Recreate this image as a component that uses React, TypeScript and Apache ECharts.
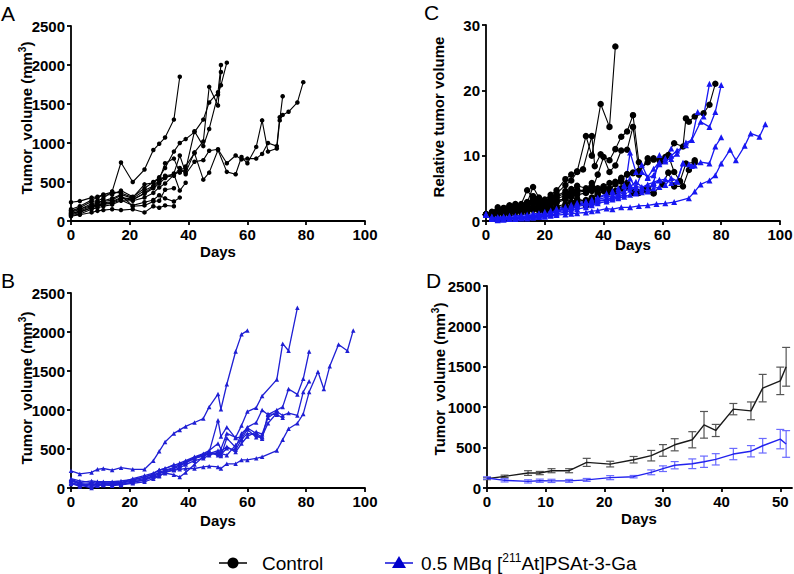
import React, { useEffect, useRef } from 'react';
import * as echarts from 'echarts';

const FONT = 'Liberation Sans, Arial, Helvetica, sans-serif';
const BLACK = '#000000';
const BLUE_B = '#1f1fd4';
const BLUE_C = '#1717f2';

type Pt = [number, number];

// ---- Panel A: individual control tumours (mm3) ----
const controlA1: Pt[] = [[0,130],[3,170],[7,250],[9,260],[11,290],[14,380],[17,750],[21,500],[25,660],[28,910],[30,990],[32,1070],[35,1300],[37,1850]];
const controlA2: Pt[] = [[0,150],[3,190],[7,270],[9,300],[11,330],[14,340],[17,390],[21,310],[25,420],[28,500],[30,560],[32,680],[35,890],[37,1000],[39,1050],[42,1140],[45,1300],[47,1520],[50,1650],[51,2000]];
const controlA3: Pt[] = [[0,110],[3,150],[7,220],[9,240],[11,260],[14,290],[17,340],[21,290],[25,390],[28,450],[30,520],[32,740],[35,800],[37,620],[39,660],[42,1150],[45,960],[47,1180],[50,1620],[51,1740],[53,2030]];
const controlA4: Pt[] = [[0,90],[3,130],[7,190],[9,210],[11,230],[14,250],[17,300],[21,280],[25,350],[28,420],[30,480],[32,550],[35,610],[37,840],[39,620],[42,880],[45,1020],[47,1720],[50,1480],[51,1910]];
const controlA5: Pt[] = [[0,240],[3,255],[7,300],[9,310],[11,340],[14,370],[17,360],[21,300],[25,470],[28,490],[30,540],[32,560],[35,580],[37,680],[39,600],[42,760],[45,780],[47,900],[50,920],[53,740],[56,840],[58,790],[60,800],[63,800],[65,860],[67,1000],[70,960],[71,1330],[72,1360],[74,1400],[77,1520],[79,1780]];
const controlA6: Pt[] = [[0,70],[3,90],[7,150],[9,170],[11,190],[14,210],[17,260],[21,260],[25,300],[28,360],[30,430],[32,480],[35,590],[37,640],[39,700],[42,870],[45,530],[47,620],[50,910],[53,630],[56,600],[58,820],[60,740],[63,950],[65,1290],[67,890],[70,930],[71,1290],[72,1600]];
const controlA7: Pt[] = [[0,100],[3,120],[7,170],[9,190],[11,210],[14,230],[17,270],[21,200],[25,240],[28,270],[30,330],[32,290],[35,250],[37,300]];
const controlA8: Pt[] = [[0,60],[3,80],[7,110],[9,130],[11,140],[14,150],[17,140],[21,150],[25,110],[28,190],[30,170],[32,200],[35,190]];
const controlA9: Pt[] = [[0,130],[3,150],[7,200],[9,230],[11,250],[14,270],[17,330],[21,190],[25,200],[28,250],[30,260],[32,400],[35,420]];
const controlA10: Pt[] = [[0,80],[3,110],[7,170],[9,200],[11,220],[14,240],[17,290],[21,270],[25,360],[28,440],[30,500],[32,580],[35,600],[37,390],[39,490]];
const controlVolumes = [controlA1, controlA2, controlA3, controlA4, controlA5, controlA6, controlA7, controlA8, controlA9, controlA10];

// ---- Panel B: individual treated tumours (mm3) ----
const treatedB1: Pt[] = [[0,220],[3,180],[7,200],[9,240],[11,250],[14,230],[17,260],[21,240],[25,240],[28,350],[30,470],[32,590],[35,700],[37,745],[39,790],[42,840],[45,890],[47,1040],[50,1205],[51,1010],[53,1330],[56,1750],[58,1970],[60,2020]];
const treatedB2: Pt[] = [[0,100],[3,60],[7,40],[9,60],[11,70],[14,60],[17,70],[21,100],[25,140],[28,180],[30,230],[32,250],[35,290],[37,320],[39,350],[42,400],[45,440],[47,480],[50,570],[51,500],[53,700],[56,650],[58,800],[60,980],[63,1030],[65,1180],[70,1390],[72,1850],[74,1760],[77,2310]];
const treatedB3: Pt[] = [[0,120],[3,90],[7,70],[9,80],[11,80],[14,80],[17,90],[21,110],[25,140],[28,170],[30,190],[32,210],[35,230],[37,240],[39,250],[42,250],[45,270],[47,280],[50,270],[51,250],[53,310],[56,310],[58,360],[60,360],[63,380],[65,400],[70,480],[72,620],[74,760],[77,830],[79,950],[81,1230],[84,1490],[86,1270],[88,1560],[91,1840],[94,1760],[96,2020]];
const treatedB4: Pt[] = [[0,90],[3,50],[7,20],[9,50],[11,50],[14,50],[17,60],[21,90],[25,120],[28,160],[30,200],[32,230],[35,260],[37,300],[39,340],[42,390],[45,430],[47,460],[50,870],[51,660],[53,780],[56,640],[58,660],[60,780],[63,840],[65,1000],[67,940],[70,1000],[72,1040],[74,1270],[77,1200],[79,1400],[81,1750]];
const treatedB5: Pt[] = [[0,60],[3,20],[7,50],[9,40],[11,40],[14,40],[17,50],[21,70],[25,110],[28,150],[30,180],[32,220],[35,250],[37,280],[39,330],[42,380],[45,420],[47,450],[50,440],[51,470],[53,530],[56,460],[58,570],[60,660],[63,720],[65,690],[67,900],[70,980],[72,930],[74,960],[77,930],[79,1230],[81,1370]];
const treatedB6: Pt[] = [[0,110],[3,70],[7,90],[9,80],[11,60],[14,70],[17,70],[21,120],[25,160],[28,190],[30,230],[32,250],[35,300],[37,290],[39,320],[42,380],[45,410],[47,440],[50,480],[51,430],[53,510],[56,490],[58,620],[60,700],[63,680],[65,630],[67,950],[70,940],[72,900]];
const treatedB7: Pt[] = [[0,70],[3,40],[7,60],[9,40],[11,50],[14,60],[17,40],[21,80],[25,100],[28,140],[30,160],[32,190],[35,170],[37,140],[39,200],[42,300],[45,400],[47,450],[50,420],[51,440],[53,420],[56,550],[58,630],[60,750],[63,650],[65,660],[67,830],[70,960]];
const treatedB8: Pt[] = [[0,50],[3,40],[7,0],[9,30],[11,40],[14,30],[17,40],[21,60],[25,80],[28,120],[30,150],[32,200],[35,230],[37,260],[39,300],[42,350],[45,380],[47,420],[50,460],[51,410],[53,640],[56,520],[58,700],[60,770],[63,700],[65,650]];
const treatedVolumes = [treatedB1, treatedB2, treatedB3, treatedB4, treatedB5, treatedB6, treatedB7, treatedB8];

// ---- Panel C: relative tumour volume, control ----
const relControl1: Pt[] = [[0,1.0],[2,1.3],[4,1.7],[6,1.9],[8,2.1],[10,2.3],[12,2.6],[14,4.7],[16,3.4],[18,3.1],[20,3.3],[22,4.0],[24,4.7],[27,6.4],[29,7.1],[31,7.6],[34,13.0],[36,10.0],[39,17.9],[42,14.4],[44,26.7]];
const relControl2: Pt[] = [[0,1.0],[2,1.2],[4,1.5],[6,1.7],[8,1.9],[10,2.2],[12,2.4],[14,2.8],[16,5.2],[18,3.6],[20,3.0],[22,3.6],[24,4.2],[27,5.5],[29,6.2],[31,7.5],[33,7.9],[36,13.0],[37,8.4],[39,10.2],[42,9.3],[44,11.0],[46,12.9],[48,13.7],[50,16.2],[52,9.0]];
const relControl3: Pt[] = [[0,1.0],[2,1.1],[4,1.4],[6,1.6],[8,1.7],[10,1.9],[12,2.1],[14,2.3],[16,2.6],[18,2.4],[20,2.6],[22,3.0],[24,3.4],[27,3.9],[29,4.3],[31,4.6],[34,4.8],[36,5.2],[38,5.0],[40,5.3],[42,5.8],[44,6.0],[46,6.4],[48,7.1],[50,7.3],[52,7.2],[55,9.6],[57,9.4],[59,9.3],[61,9.8],[64,11.9],[67,11.4],[68,15.7],[69,15.2],[71,16.0],[74,16.5],[76,17.8],[78,21.0]];
const relControl4: Pt[] = [[0,1.0],[2,1.2],[4,1.3],[6,1.5],[8,1.6],[10,1.8],[12,2.0],[14,2.2],[16,2.1],[18,2.3],[20,2.0],[22,2.6],[24,3.0],[27,3.5],[29,3.9],[31,4.4],[34,4.6],[36,5.0],[38,4.7],[40,5.0],[42,4.8],[44,5.6],[46,6.0],[48,5.3],[50,4.3],[52,4.4],[55,5.0],[57,4.3],[60,5.6],[62,7.4],[64,5.3],[67,5.3],[69,7.8],[71,9.3]];
const relControl5: Pt[] = [[0,1.0],[2,1.1],[4,1.2],[6,1.3],[8,1.4],[10,1.5],[12,1.6],[14,1.8],[16,2.0],[18,2.2],[20,2.5],[22,2.8],[24,3.1],[27,3.4],[29,3.7],[31,4.0],[34,4.3],[36,4.6],[38,7.1],[40,9.8],[42,7.5],[44,8.5],[46,10.8],[48,10.9],[50,14.4],[52,7.7],[55,9.0],[57,9.6],[60,9.2],[62,10.1],[64,7.5],[66,6.1],[68,8.8],[71,9.0]];
const relControl6: Pt[] = [[0,1.0],[2,1.4],[4,2.1],[6,1.8],[8,2.4],[10,2.6],[12,2.0],[14,2.5],[16,3.0],[18,2.6],[20,2.1],[22,2.4],[24,2.8],[27,3.3],[29,2.9],[31,3.4],[34,3.0],[36,3.5],[38,4.2],[40,4.6],[42,4.4],[44,5.9],[46,6.6],[48,7.2],[50,7.4],[52,7.1]];
const relControl7: Pt[] = [[0,1.0],[2,1.0],[4,1.3],[6,1.1],[8,1.2],[10,1.4],[12,1.3],[14,1.6],[16,1.9],[18,1.6],[20,1.5],[22,1.8],[24,2.0],[27,2.3],[29,2.1],[31,2.6],[34,2.3],[36,2.9]];
const relControl8: Pt[] = [[0,1.0],[2,1.2],[4,1.6],[6,1.9],[8,2.2],[10,2.0],[12,2.3],[14,2.6],[16,3.8],[18,2.8],[20,2.6],[22,3.2],[24,3.7],[27,4.2],[29,4.9],[31,5.4],[34,5.0],[36,5.8],[38,4.9],[40,5.2],[42,5.0],[44,4.6],[46,5.0],[48,5.8],[50,4.4],[52,4.3],[54,4.7],[57,4.2]];
const relControl9: Pt[] = [[0,1.0],[2,1.3],[4,1.5],[6,2.0],[8,2.3],[10,2.5],[12,2.2],[14,2.9],[16,3.3],[18,2.7],[20,2.9],[22,3.5],[24,3.8],[27,4.6],[29,4.4],[31,4.8],[34,4.5],[36,5.0]];
const relControl10: Pt[] = [[0,1.0],[2,0.9],[4,1.1],[6,1.2],[8,1.1],[10,1.3],[12,1.5],[14,1.4],[16,1.7],[18,1.9],[20,1.7],[22,2.0],[24,2.2],[27,2.6],[29,2.8],[31,3.0],[34,3.2],[36,3.6],[38,4.0]];
const relativeControl = [relControl1, relControl2, relControl3, relControl4, relControl5, relControl6, relControl7, relControl8, relControl9, relControl10];

// ---- Panel C: relative tumour volume, treated ----
const relTreated1: Pt[] = [[0,1.0],[2,0.6],[4,0.5],[6,0.6],[8,0.6],[10,0.6],[12,0.7],[14,0.8],[16,0.9],[18,1.0],[20,1.2],[22,1.4],[24,1.7],[27,2.0],[29,2.3],[31,2.6],[34,2.9],[36,3.1],[38,3.5],[41,4.0],[43,4.4],[45,4.7],[47,5.3],[49,6.5],[51,5.0],[53,7.5],[55,6.7],[57,8.0],[59,9.0],[61,9.6],[63,10.0],[65,10.8],[68,11.6],[70,12.4],[72,16.7],[74,16.0],[76,21.0]];
const relTreated2: Pt[] = [[0,1.0],[2,0.5],[4,0.3],[6,0.4],[8,0.4],[10,0.5],[12,0.5],[14,0.6],[16,0.7],[18,0.8],[20,1.0],[22,1.2],[24,1.5],[27,1.8],[29,2.1],[31,2.4],[34,2.7],[36,2.9],[38,3.1],[41,3.3],[43,3.5],[45,3.7],[47,4.0],[49,10.5],[51,7.5],[53,8.6],[55,6.6],[57,7.0],[59,8.7],[61,9.3],[63,9.5],[65,10.3],[68,12.0],[70,12.4],[73,15.2],[76,14.4],[78,16.7],[80,20.8]];
const relTreated3: Pt[] = [[0,1.0],[2,0.4],[4,0.2],[6,0.3],[8,0.4],[10,0.4],[12,0.5],[14,0.6],[16,0.7],[18,0.8],[20,1.0],[22,1.2],[24,1.4],[27,1.6],[29,1.9],[31,2.2],[34,2.5],[36,2.7],[38,3.0],[41,3.2],[43,3.6],[45,4.0],[47,4.3],[49,5.5],[51,4.4],[53,4.8],[55,5.0],[57,5.6],[59,6.2],[61,6.4],[63,5.8],[65,6.0],[67,8.8],[69,8.7],[71,8.5],[73,9.0],[76,8.8],[78,11.4],[80,12.8]];
const relTreated4: Pt[] = [[0,1.0],[2,0.3],[4,0.2],[6,0.3],[8,0.4],[10,0.4],[12,0.5],[14,0.5],[16,0.6],[18,0.6],[20,0.7],[22,0.8],[24,0.9],[27,1.0],[29,1.1],[31,1.2],[34,1.3],[36,1.5],[38,1.6],[41,1.9],[43,1.8],[46,2.1],[49,2.1],[52,2.3],[55,2.4],[58,2.6],[61,2.7],[64,2.9],[69,3.5],[71,4.5],[73,5.6],[76,6.2],[78,7.0],[80,8.8],[83,10.9],[85,9.3],[88,11.5],[90,13.4],[93,12.9],[95,14.8]];
const relTreated5: Pt[] = [[0,1.0],[2,0.7],[4,0.6],[6,0.7],[8,0.8],[10,0.8],[12,0.9],[14,1.0],[16,1.1],[18,1.2],[20,1.4],[22,1.6],[24,1.9],[27,2.2],[29,2.5],[31,2.8],[34,3.0],[36,3.3],[38,3.6],[41,4.2],[43,4.6],[45,5.0],[47,5.5],[49,5.2],[51,6.0],[53,5.2],[55,4.6],[57,5.8],[59,10.1],[61,9.1],[63,11.1]];
const relTreated6: Pt[] = [[0,1.0],[2,0.5],[4,0.4],[6,0.5],[8,0.5],[10,0.6],[12,0.6],[14,0.7],[16,0.8],[18,0.9],[20,1.1],[22,1.3],[24,1.6],[27,1.9],[29,2.2],[31,2.5],[34,2.8],[36,3.0],[38,3.3],[41,3.6],[43,3.9],[45,4.2],[47,4.6],[49,4.8],[51,5.3],[53,5.1],[55,5.6],[57,5.9],[59,6.3],[61,5.5],[63,6.6],[65,6.1],[67,8.9],[70,8.4]];
const relTreated7: Pt[] = [[0,1.0],[2,0.3],[4,0.1],[6,0.2],[8,0.3],[10,0.3],[12,0.4],[14,0.4],[16,0.5],[18,0.6],[20,0.7],[22,0.9],[24,1.1],[27,1.4],[29,1.6],[31,1.8],[34,2.1],[36,2.4],[38,2.7],[41,3.0],[43,3.3],[45,3.5],[47,3.7],[49,4.0],[51,4.2],[53,4.4],[55,4.5],[57,5.0],[59,5.2]];
const relativeTreated = [relTreated1, relTreated2, relTreated3, relTreated4, relTreated5, relTreated6, relTreated7];

// ---- Panel D: group mean ± SEM (mm3) ----
const meanDays = [0, 3, 7, 9, 11, 14, 17, 21, 25, 28, 30, 32, 35, 37, 39, 42, 45, 47, 50, 51];
const controlMean = [115, 144, 185, 185, 214, 214, 317, 296, 350, 400, 465, 535, 597, 782, 712, 976, 955, 1236, 1326, 1500];
const controlSem = [12, 15, 29, 20, 25, 25, 50, 35, 40, 65, 72, 75, 100, 165, 75, 70, 110, 170, 170, 240];
const treatedMean = [124, 95, 82, 90, 88, 88, 100, 128, 140, 194, 239, 282, 300, 325, 355, 420, 455, 523, 605, 545];
const treatedSem = [15, 20, 20, 20, 20, 18, 18, 25, 15, 30, 35, 45, 60, 70, 70, 70, 70, 90, 120, 165];

const xTicksD = [0, 10, 20, 30, 40, 50];

const GRIDS = [
  { left: 71, top: 26, width: 294, height: 195 },
  { left: 71, top: 293, width: 294, height: 195 },
  { left: 486, top: 25, width: 294, height: 196 },
  { left: 487, top: 286, width: 305, height: 202 },
];

const axisBase = (gridIndex: number, min: number, max: number, interval: number) => ({
  type: 'value' as const,
  gridIndex,
  min,
  max,
  interval,
  axisLine: { show: true, onZero: false, lineStyle: { color: BLACK, width: 1.8 } },
  axisTick: { show: true, length: 4, lineStyle: { color: BLACK, width: 1.8 } },
  axisLabel: {
    color: BLACK,
    fontSize: 15,
    fontWeight: 'bold' as const,
    fontFamily: FONT,
    margin: 6,
    formatter: (v: number) => String(v),
  },
  splitLine: { show: false },
});

function traceSeries(points: Pt[], axis: number, color: string, symbol: string, size: number, width: number) {
  return {
    type: 'line' as const,
    xAxisIndex: axis,
    yAxisIndex: axis,
    data: points,
    symbol,
    symbolSize: size,
    showSymbol: true,
    clip: false,
    silent: true,
    lineStyle: { color, width },
    itemStyle: { color },
  };
}

function errorBars(days: number[], mean: number[], sem: number[], color: string) {
  return {
    type: 'custom' as const,
    xAxisIndex: 3,
    yAxisIndex: 3,
    silent: true,
    z: 3,
    encode: { x: 0, y: 1 },
    data: days.map((d, i) => [d, mean[i], sem[i]]),
    renderItem: (_params: any, api: any) => {
      const x = api.value(0);
      const m = api.value(1);
      const e = api.value(2);
      const top = api.coord([x, m + e]);
      const bot = api.coord([x, m - e]);
      const hw = 4;
      const st = { stroke: color, lineWidth: 1.2 };
      return {
        type: 'group',
        children: [
          { type: 'line', shape: { x1: top[0], y1: top[1], x2: bot[0], y2: bot[1] }, style: st },
          { type: 'line', shape: { x1: top[0] - hw, y1: top[1], x2: top[0] + hw, y2: top[1] }, style: st },
          { type: 'line', shape: { x1: bot[0] - hw, y1: bot[1], x2: bot[0] + hw, y2: bot[1] }, style: st },
        ],
      };
    },
  };
}

const boldTitle = { fontSize: 15, fontWeight: 'bold', fontFamily: FONT, fill: BLACK };
const volumeRich = {
  b: { fontSize: 15, fontWeight: 'bold', fontFamily: FONT, fill: BLACK, lineHeight: 18 },
  s: { fontSize: 10, fontWeight: 'bold', fontFamily: FONT, fill: BLACK, lineHeight: 10, verticalAlign: 'top' },
};

function yTitle(x: number, y: number, withUnit: boolean, text: string) {
  return {
    type: 'text',
    x,
    y,
    rotation: Math.PI / 2,
    style: withUnit
      ? { text: '{b|Tumor  volume (mm}{s|3}{b|)}', rich: volumeRich, align: 'center', verticalAlign: 'middle' }
      : { text, ...boldTitle, align: 'center', verticalAlign: 'middle' },
  };
}

function xTitle(x: number, y: number) {
  return { type: 'text', x, y, style: { text: 'Days', ...boldTitle, align: 'center', verticalAlign: 'middle' } };
}

function panelLetter(x: number, y: number, text: string) {
  return { type: 'text', x, y, style: { text, fontSize: 21, fontFamily: FONT, fill: BLACK, align: 'left', verticalAlign: 'top' } };
}

const legendY = 563;
const legendItems = [
  { type: 'line', shape: { x1: 219, y1: legendY, x2: 247, y2: legendY }, style: { stroke: BLACK, lineWidth: 1.5 } },
  { type: 'circle', shape: { cx: 233, cy: legendY, r: 5.5 }, style: { fill: BLACK } },
  { type: 'text', x: 262, y: legendY, style: { text: 'Control', fontSize: 19, fontFamily: FONT, fill: BLACK, align: 'left', verticalAlign: 'middle' } },
  { type: 'line', shape: { x1: 385, y1: legendY, x2: 413, y2: legendY }, style: { stroke: '#1010d8', lineWidth: 1.5 } },
  { type: 'polygon', shape: { points: [[399, legendY - 7], [392, legendY + 5], [406, legendY + 5]] }, style: { fill: '#0000cc' } },
  {
    type: 'text',
    x: 421,
    y: legendY,
    style: {
      text: '{n|0.5 MBq [}{s|211}{n|At]PSAt-3-Ga}',
      align: 'left',
      verticalAlign: 'middle',
      rich: {
        n: { fontSize: 19, fontFamily: FONT, fill: BLACK, lineHeight: 22 },
        s: { fontSize: 12, fontFamily: FONT, fill: BLACK, lineHeight: 12, verticalAlign: 'top' },
      },
    },
  },
];

function buildOption() {
  const series: any[] = [];
  controlVolumes.forEach((p) => series.push(traceSeries(p, 0, BLACK, 'circle', 4.5, 1.1)));
  treatedVolumes.forEach((p) => series.push(traceSeries(p, 1, BLUE_B, 'triangle', 4.5, 1.3)));
  relativeControl.forEach((p) => series.push(traceSeries(p, 2, BLACK, 'circle', 6.5, 1.1)));
  relativeTreated.forEach((p) => series.push(traceSeries(p, 2, BLUE_C, 'triangle', 6, 1.3)));

  series.push({
    type: 'line', xAxisIndex: 3, yAxisIndex: 3, silent: true, clip: false, symbol: 'none', z: 4,
    data: meanDays.map((d, i) => [d, controlMean[i]]),
    lineStyle: { color: '#1a1a1a', width: 1.4 },
  });
  series.push({
    type: 'line', xAxisIndex: 3, yAxisIndex: 3, silent: true, clip: false, symbol: 'none', z: 4,
    data: meanDays.map((d, i) => [d, treatedMean[i]]),
    lineStyle: { color: '#2222ee', width: 1.4 },
  });
  series.push(errorBars(meanDays, controlMean, controlSem, '#555555'));
  series.push(errorBars(meanDays, treatedMean, treatedSem, '#6a6aff'));

  const xD = axisBase(3, 0, 52, 10) as any;
  xD.axisLabel = { ...xD.axisLabel, customValues: xTicksD };
  xD.axisTick = { ...xD.axisTick, customValues: xTicksD };

  return {
    animation: false,
    backgroundColor: '#ffffff',
    grid: GRIDS.map((g) => ({ ...g, containLabel: false, outerBoundsMode: 'none' })),
    xAxis: [axisBase(0, 0, 100, 20), axisBase(1, 0, 100, 20), axisBase(2, 0, 100, 20), xD],
    yAxis: [axisBase(0, 0, 2500, 500), axisBase(1, 0, 2500, 500), axisBase(2, 0, 30, 10), axisBase(3, 0, 2500, 500)],
    series,
    graphic: [
      panelLetter(1, 3, 'A'),
      panelLetter(1, 270, 'B'),
      panelLetter(424, 2, 'C'),
      panelLetter(426, 270, 'D'),
      yTitle(26, 118, true, ''),
      yTitle(26, 388, true, ''),
      yTitle(438, 117, false, 'Relative tumor volume'),
      yTitle(439, 379, true, ''),
      xTitle(218, 251),
      xTitle(218, 520),
      xTitle(633, 244),
      xTitle(639, 518),
      ...legendItems,
    ],
  };
}

export default function App() {
  const ref = useRef<HTMLDivElement>(null);
  useEffect(() => {
    if (!ref.current) return;
    const chart = echarts.init(ref.current, null, { renderer: 'svg' });
    chart.setOption(buildOption() as any);
    return () => chart.dispose();
  }, []);
  return (
    <div
      ref={ref}
      style={{ position: 'absolute', left: 0, top: 0, width: 794, height: 574, background: '#ffffff' }}
    />
  );
}
